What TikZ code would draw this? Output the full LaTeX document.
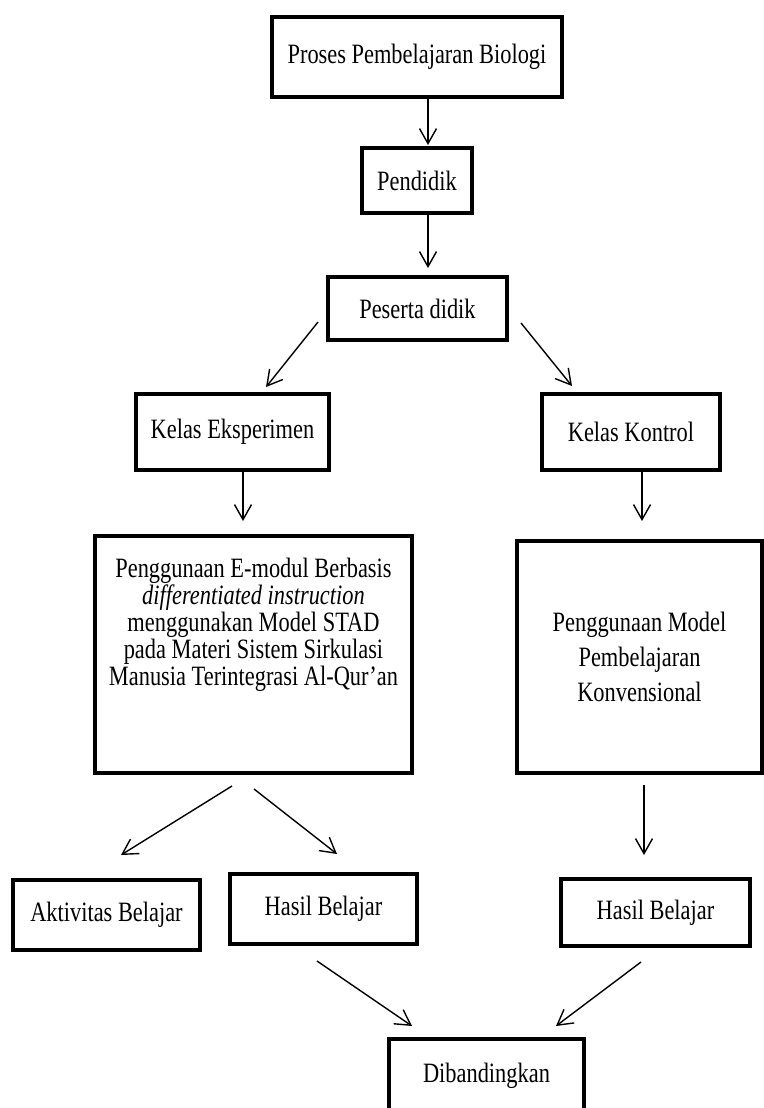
\documentclass[tikz,border=0pt]{standalone}
\usepackage{fontspec}
\setmainfont[FakeStretch=0.8]{Liberation Serif}
\usetikzlibrary{arrows.meta}

\tikzset{
  kotak/.style={draw, line width=2pt, inner sep=2pt, align=center,
    font=\fontsize{14}{13.5}\selectfont},
  panah/.style={-{Straight Barb[length=7.5pt,width=8.5pt]}, line width=0.7pt},
}

\begin{document}
\begin{tikzpicture}[x=0.5pt,y=-0.5pt]
\useasboundingbox (0,0) rectangle (764,1108);
\clip (0,0) rectangle (764,1108);
% kotak
\node[kotak, minimum width=145pt, minimum height=40pt] (proses) at (417,57) {Proses Pembelajaran Biologi};
\node[kotak, minimum width=55pt, minimum height=32.5pt] (pendidik) at (417,180.5) {Pendidik};
\node[kotak, minimum width=89.5pt, minimum height=31.5pt] (peserta) at (417.5,308.5) {Peserta didik};
\node[kotak, minimum width=96.5pt, minimum height=38pt] (eksperimen) at (232.5,432) {Kelas Eksperimen};
\node[kotak, minimum width=89pt, minimum height=38pt] (kontrol) at (631,432) {Kelas Kontrol};
\node[kotak, minimum width=158.5pt, minimum height=118.5pt, inner sep=0pt] (modul) at (253.5,654.5)
  {\parbox[c][118.5pt][t]{156pt}{\centering\vspace*{11pt}Penggunaan E-modul Berbasis\\
   \textit{differentiated instruction}\\
   menggunakan Model STAD\\
   pada Materi Sistem Sirkulasi\\
   Manusia Terintegrasi Al-Qur’an}};
\node[kotak, minimum width=122.5pt, minimum height=116pt, font=\fontsize{14}{17.5}\selectfont] (konvensional) at (639.5,657)
  {Penggunaan Model\\ Pembelajaran\\ Konvensional};
\node[kotak, minimum width=93.5pt, minimum height=35pt] (aktivitas) at (106.5,915) {Aktivitas Belajar};
\node[kotak, minimum width=93.5pt, minimum height=35pt] (hasileksp) at (323.5,909) {Hasil Belajar};
\node[kotak, minimum width=94.5pt, minimum height=33.5pt] (hasilkontrol) at (655.5,912.5) {Hasil Belajar};
\node[kotak, minimum width=97.5pt, minimum height=36.5pt] (banding) at (486.5,1075.5) {Dibandingkan};
% panah
\draw[panah] ([shift={(11,0)}]proses.south) -- ([shift={(11,-1)}]pendidik.north);
\draw[panah] ([shift={(11,0)}]pendidik.south) -- ([shift={(10.5,-7)}]peserta.north);
\draw[panah] ([shift={(-8,13.5)}]peserta.west) -- ([shift={(33.5,-5)}]eksperimen.north);
\draw[panah] ([shift={(12,14.5)}]peserta.east) -- ([shift={(-59,-6)}]kontrol.north);
\draw[panah] ([shift={(10.5,0)}]eksperimen.south) -- ([shift={(-10.5,-13)}]modul.north);
\draw[panah] ([shift={(11,0)}]kontrol.south) -- ([shift={(2.5,-18)}]konvensional.north);
\draw[panah] ([shift={(-21.5,11)}]modul.south) -- ([shift={(14.5,-23)}]aktivitas.north);
\draw[panah] ([shift={(0.5,14)}]modul.south) -- ([shift={(13.5,-18)}]hasileksp.north);
\draw[panah] ([shift={(4.5,10)}]konvensional.south) -- ([shift={(-11.5,-22)}]hasilkontrol.north);
\draw[panah] ([shift={(-6.5,15)}]hasileksp.south) -- ([shift={(-74.5,-11)}]banding.north);
\draw[panah] ([shift={(-14.5,14)}]hasilkontrol.south) -- ([shift={(69.5,-11)}]banding.north);
\end{tikzpicture}
\end{document}
